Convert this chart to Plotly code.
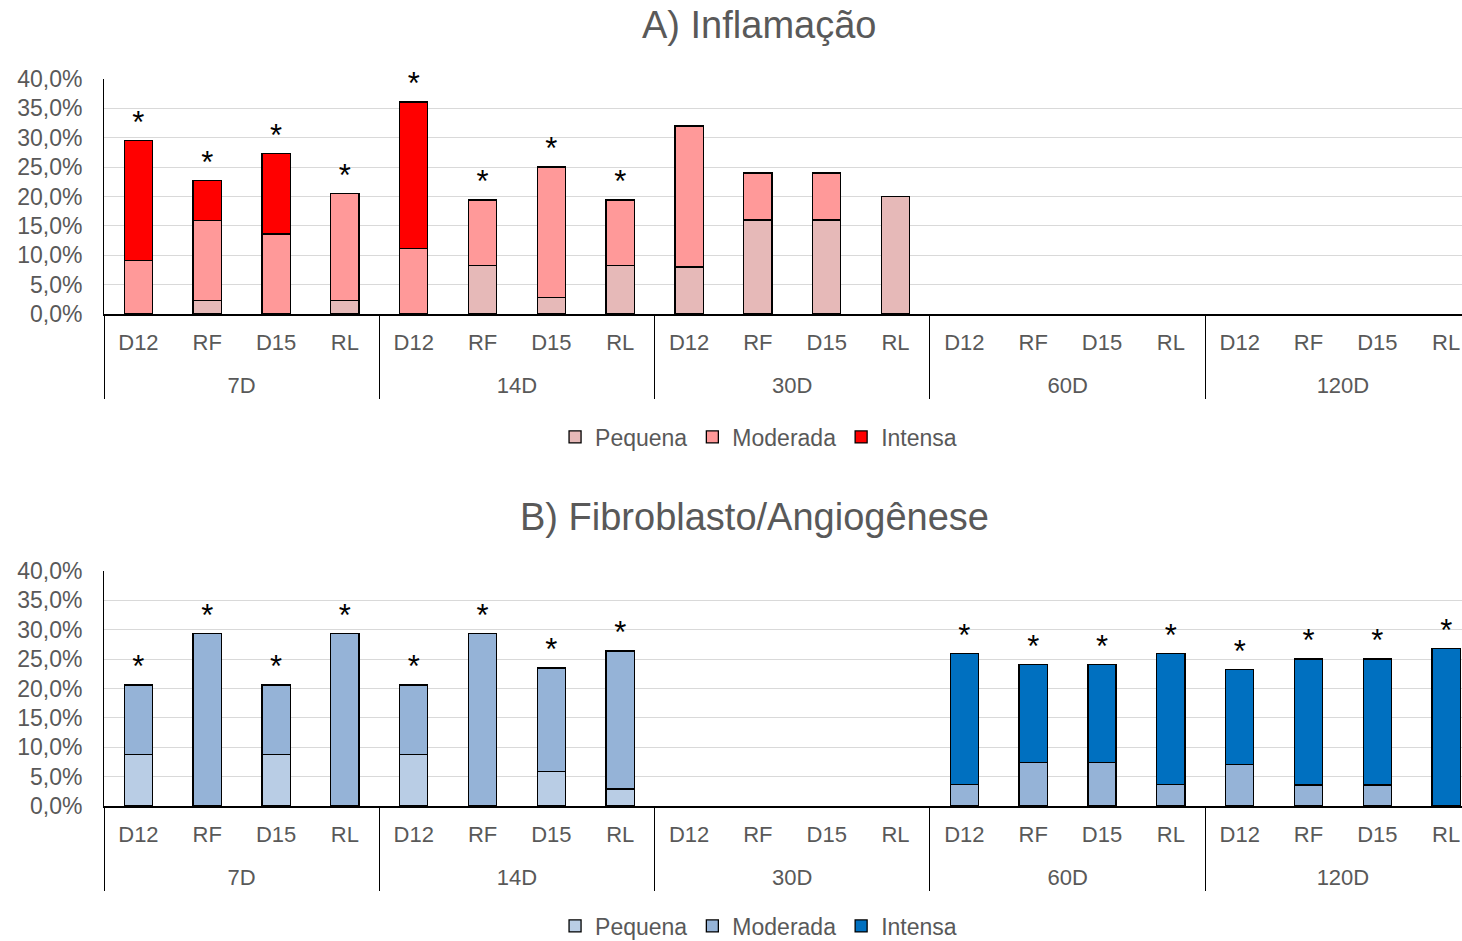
import plotly.graph_objects as go

groups = ["7D"] * 4 + ["14D"] * 4 + ["30D"] * 4 + ["60D"] * 4 + ["120D"] * 4
subs = ["D12", "RF", "D15", "RL"] * 5
series_names = ["Pequena", "Moderada", "Intensa"]

# A) Inflamação (%)
a_pequena = [0, 2.3, 0, 2.3, 0, 8.3, 2.8, 8.3, 8.0, 16.0, 16.0, 20.0, 0, 0, 0, 0, 0, 0, 0, 0]
a_moderada = [9.1, 13.6, 13.6, 18.2, 11.1, 11.1, 22.2, 11.1, 24.0, 8.0, 8.0, 0, 0, 0, 0, 0, 0, 0, 0, 0]
a_intensa = [20.4, 6.8, 13.7, 0, 25.0, 0, 0, 0, 0, 0, 0, 0, 0, 0, 0, 0, 0, 0, 0, 0]
a_star = [1, 1, 1, 1, 1, 1, 1, 1, 0, 0, 0, 0, 0, 0, 0, 0, 0, 0, 0, 0]

# B) Fibroblasto/Angiogênese (%)
b_pequena = [8.8, 0, 8.8, 0, 8.8, 0, 5.9, 2.9, 0, 0, 0, 0, 0, 0, 0, 0, 0, 0, 0, 0]
b_moderada = [11.8, 29.4, 11.8, 29.4, 11.8, 29.4, 17.6, 23.5, 0, 0, 0, 0, 3.7, 7.4, 7.4, 3.7, 7.1, 3.6, 3.6, 0]
b_intensa = [0, 0, 0, 0, 0, 0, 0, 0, 0, 0, 0, 0, 22.2, 16.7, 16.7, 22.2, 16.1, 21.4, 21.4, 26.8]
b_star = [1, 1, 1, 1, 1, 1, 1, 1, 0, 0, 0, 0, 1, 1, 1, 1, 1, 1, 1, 1]

colors_a = ["#E6B9B8", "#FF9999", "#FF0000"]
colors_b = ["#B9CDE5", "#95B3D7", "#0070C0"]

FONT = "Liberation Sans, Arial, sans-serif"
GRAY = "#595959"

# sub-category tick text (extra blank line gives room before the group labels)
sub_labels = [s + "<br><span style='font-size:2px'>\u00a0</span>" for s in subs]
xcats = [groups, sub_labels]

fig = go.Figure()

def add_panel(vals, stars, colors, xa, ya, legend):
    for name, v, c in zip(series_names, vals, colors):
        fig.add_trace(go.Bar(
            x=xcats, y=[val if val else None for val in v], name=name, marker_color=c,
            marker_line_color="#000000", marker_line_width=1.3,
            xaxis=xa, yaxis=ya, legend=legend,
        ))
    totals = [sum(t) for t in zip(*vals)]
    sx = [[g for g, s in zip(groups, stars) if s], [b for b, s in zip(sub_labels, stars) if s]]
    sy = [t for t, s in zip(totals, stars) if s]
    fig.add_trace(go.Scatter(
        x=sx, y=sy, mode="text", text=["*"] * len(sy), textposition="top center",
        textfont=dict(size=31, color="#000000", family=FONT),
        showlegend=False, xaxis=xa, yaxis=ya, hoverinfo="skip", cliponaxis=False,
    ))

add_panel([a_pequena, a_moderada, a_intensa], a_star, colors_a, "x", "y", "legend")
add_panel([b_pequena, b_moderada, b_intensa], b_star, colors_b, "x2", "y2", "legend2")

H = 941.0
def py(p):
    return 1 - p / H

xcommon = dict(type="multicategory", showdividers=True, dividercolor="#000000", dividerwidth=1,
               tickfont=dict(size=22, color=GRAY, family=FONT), showline=True,
               linecolor="#000000", linewidth=1.5, showgrid=False, ticks="", domain=[0, 1],
               range=[-0.5, 19.23], automargin=False, ticklabelstandoff=8)
ycommon = dict(range=[0, 40], dtick=5, tickformat=".1f", ticksuffix="%",
               tickfont=dict(size=23, color=GRAY, family=FONT), showgrid=True,
               gridcolor="#D9D9D9", gridwidth=1, showline=True, linecolor="#000000",
               linewidth=1, zeroline=False, ticks="", automargin=False, ticklabelstandoff=16)

fig.update_layout(
    width=1462, height=941,
    margin=dict(l=104, r=0, t=0, b=0, autoexpand=False),
    paper_bgcolor="white", plot_bgcolor="white",
    separators=",.",
    barmode="stack", bargap=0.59,
    font=dict(family=FONT, color=GRAY),
    xaxis=dict(xcommon, anchor="y"),
    yaxis=dict(ycommon, domain=[py(314), py(79)], anchor="x"),
    xaxis2=dict(xcommon, anchor="y2"),
    yaxis2=dict(ycommon, domain=[py(806), py(571)], anchor="x2"),
    legend=dict(orientation="h", x=0.482, xanchor="center", y=py(437), yanchor="middle",
                font=dict(size=23, color=GRAY, family=FONT), traceorder="normal",
                itemwidth=30, bgcolor="rgba(0,0,0,0)"),
    legend2=dict(orientation="h", x=0.482, xanchor="center", y=py(926), yanchor="middle",
                 font=dict(size=23, color=GRAY, family=FONT), traceorder="normal",
                 itemwidth=30, bgcolor="rgba(0,0,0,0)"),
    annotations=[
        dict(text="A) Inflamação", x=0.482, y=py(25), xref="paper", yref="paper",
             xanchor="center", yanchor="middle", showarrow=False,
             font=dict(size=38, color=GRAY, family=FONT)),
        dict(text="B) Fibroblasto/Angiogênese", x=0.479, y=py(517), xref="paper", yref="paper",
             xanchor="center", yanchor="middle", showarrow=False,
             font=dict(size=38, color=GRAY, family=FONT)),
    ],
)

fig.write_html("out.html")
